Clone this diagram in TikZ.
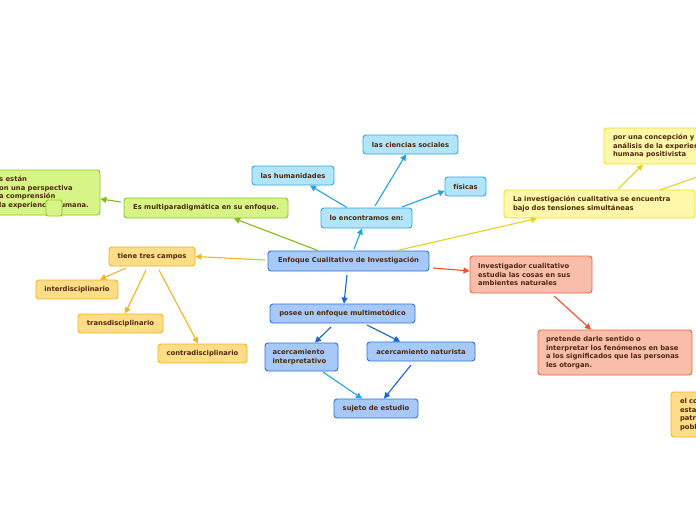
\documentclass[tikz,border=0pt]{standalone}
\usepackage{fontspec}
\setmainfont{DejaVu Sans}
\usetikzlibrary{arrows.meta}
\definecolor{txt}{HTML}{50280A}
\definecolor{bfill}{HTML}{A6C9FA}\definecolor{bline}{HTML}{2D73DC}
\definecolor{cfill}{HTML}{B2E4FA}\definecolor{cline}{HTML}{28AAE6}
\definecolor{gfill}{HTML}{D7F587}\definecolor{gline}{HTML}{8CC81E}
\definecolor{ofill}{HTML}{FFDC87}\definecolor{oline}{HTML}{F5B41E}
\definecolor{sfill}{HTML}{F9BEAA}\definecolor{sline}{HTML}{F0643C}
\definecolor{yfill}{HTML}{FFF8AA}\definecolor{yline}{HTML}{F0DC28}
\definecolor{bconn}{HTML}{1464D2}\definecolor{cconn}{HTML}{1EA5E6}
\definecolor{gconn}{HTML}{80BE14}\definecolor{sconn}{HTML}{F0502D}
\definecolor{yconn}{HTML}{E6D21E}
\tikzset{
  box/.style={rectangle, rounded corners=3pt, line width=0.9pt, text=txt,
    font=\fontsize{6.8}{8.5}\selectfont\bfseries, inner sep=0pt, align=center},
  bluebox/.style={box, fill=bfill, draw=bline},
  cyanbox/.style={box, fill=cfill, draw=cline},
  greenbox/.style={box, fill=gfill, draw=gline},
  orangebox/.style={box, fill=ofill, draw=oline},
  salmonbox/.style={box, fill=sfill, draw=sline},
  yellowbox/.style={box, fill=yfill, draw=yline},
  plaintext/.style={text=txt, font=\fontsize{6.8}{8.5}\selectfont\bfseries, inner sep=0pt, align=left},
  conn/.style={line width=1.1pt, -{Triangle[length=6pt,width=6pt]}},
}
\begin{document}
\begin{tikzpicture}[x=1pt,y=-1pt]
\useasboundingbox (0,0) rectangle (696,520);
\clip (0,0) rectangle (696,520);
\fill[white] (0,0) rectangle (696,520);

% nodes
\node[bluebox, minimum width=161pt, minimum height=20pt] (central) at (348.5,261) {Enfoque Cualitativo de Investigación};
\node[cyanbox, minimum width=91pt, minimum height=20pt] (lo) at (366.5,218) {lo encontramos en:};
\node[cyanbox, minimum width=95pt, minimum height=19pt] (cs) at (410.5,144.5) {las ciencias sociales};
\node[cyanbox, minimum width=82pt, minimum height=19pt] (hum) at (293,175.5) {las humanidades};
\node[cyanbox, minimum width=41pt, minimum height=19pt] (fis) at (465.5,186.5) {físicas};
\node[greenbox, minimum width=164pt, minimum height=20pt] (multi) at (206,208) {Es multiparadigmática en su enfoque.};
\node[greenbox, minimum width=140pt, minimum height=45pt] (persp) at (30,192.5) {};
\node[plaintext, anchor=west] (persptxt) at (-1,192.5) {s están\\on una perspectiva\\a comprensión\\la experiencia humana.};
\node[greenbox, minimum width=16pt, minimum height=16pt, rounded corners=2pt] (sq) at (54,208) {};
\node[orangebox, minimum width=86pt, minimum height=19pt] (tiene) at (152,256.5) {tiene tres campos};
\node[orangebox, minimum width=82pt, minimum height=19pt] (inter) at (77,289.5) {interdisciplinario};
\node[orangebox, minimum width=85pt, minimum height=19pt] (trans) at (120.5,323.5) {transdisciplinario};
\node[orangebox, minimum width=89pt, minimum height=19pt] (contra) at (202.5,353.5) {contradisciplinario};
\node[bluebox, minimum width=145pt, minimum height=19pt] (posee) at (342.5,313.5) {posee un enfoque multimetódico};
\node[bluebox, minimum width=73pt, minimum height=28pt, text width=58pt, align=left] (interp) at (301.5,357) {acercamiento\\interpretativo};
\node[bluebox, minimum width=108pt, minimum height=19pt] (nat) at (421,351.5) {acercamiento naturista};
\node[bluebox, minimum width=84pt, minimum height=19pt] (suj) at (376,408.5) {sujeto de estudio};
\node[salmonbox, minimum width=122pt, minimum height=37pt, text width=106pt, align=left] (inv) at (531,274.5) {Investigador cualitativo\\estudia las cosas en sus\\ambientes naturales};
\node[salmonbox, minimum width=154pt, minimum height=45pt, text width=138pt, align=left] (pret) at (615,352.5) {pretende darle sentido o\\interpretar los fenómenos en base\\a los significados que las personas\\les otorgan.};
\node[yellowbox, minimum width=191pt, minimum height=28pt, text width=173pt, align=left] (tens) at (599.5,204) {La investigación cualitativa se encuentra\\bajo dos tensiones simultáneas};
\node[yellowbox, minimum width=130pt, minimum height=36pt, text width=112pt, align=left] (conc) at (669,146) {por una concepción y\\análisis de la experiencia\\humana positivista};
\node[orangebox, minimum width=60pt, minimum height=45pt, text width=42pt, align=left] (elco) at (701,414.5) {el co\\esta\\patr\\pobl};
\coordinate (offr) at (700,176);

% connectors
\draw[conn, cconn] (354,249) -- (lo.south -| 362,0);
\draw[conn, cconn] (lo.north -| 347,0) -- (hum.south -| 310,0);
\draw[conn, cconn] (375,206) -- (cs.south -| 406,0);
\draw[conn, cconn] (402,207) -- (fis.west |- 0,191);
\draw[conn, gconn] (central.north -| 318,0) -- (multi.south -| 234,0);
\draw[conn, gconn] (121,202) -- (persp.east |- 0,199);
\draw[conn, oline] (265,260) -- (tiene.east);
\draw[conn, oline] (126,268) -- (inter.north -| 100,0);
\draw[conn, oline] (146,270) -- (trans.north -| 125,0);
\draw[conn, oline] (159,270) -- (contra.north -| 198,0);
\draw[conn, bconn] (347,275) -- (posee.north -| 344,0);
\draw[conn, bconn] (331,327) -- (interp.north -| 315,0);
\draw[conn, bconn] (367,325) -- (nat.north -| 400,0);
\draw[conn, cconn] (323,372) -- (suj.north -| 362,0);
\draw[conn, bconn] (411,365) -- (suj.north -| 384,0);
\draw[conn, sconn] (433,268) -- (inv.west |- 0,271);
\draw[conn, sconn] (554,296) -- (pret.north -| 591,0);
\draw[conn, yconn] (central.north -| 397,0) -- (tens.south -| 537,0);
\draw[conn, yconn] (618,189) -- (conc.south -| 643,0);
\draw[line width=1.1pt, yconn] (660,190) -- (offr);
\end{tikzpicture}
\end{document}
